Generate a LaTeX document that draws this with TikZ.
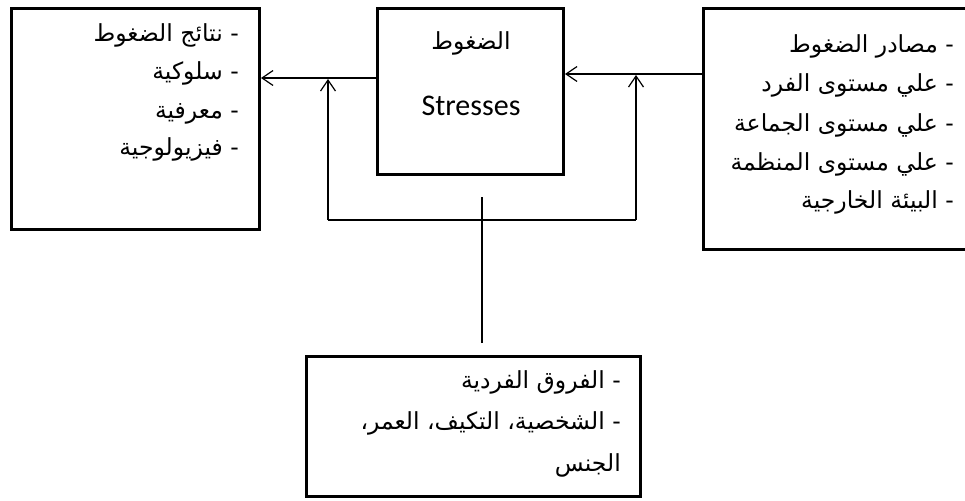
\documentclass[tikz,border=0pt]{standalone}
\usepackage{fontspec}
\usetikzlibrary{arrows.meta}
\newfontfamily\arabicfont[Script=Arabic]{DejaVu Sans}
\newfontfamily\latinfont{Carlito}
\TeXXeTstate=1
\begin{document}
\begin{tikzpicture}[x=1pt,y=-1pt,
  box/.style={draw, line width=3pt, inner sep=0pt, anchor=north west},
  conn/.style={line width=1.3pt},
  tip/.style={-{Straight Barb[length=11pt,width=15pt,line width=1.2pt]}},
  ar/.style={font=\arabicfont\fontsize{23.5}{28}\selectfont, anchor=base east, inner sep=0pt},
  lat/.style={font=\latinfont\fontsize{30}{34}\selectfont, anchor=base, inner sep=0pt}]
\useasboundingbox (0,0) rectangle (965,500);
\clip (0,0) rectangle (965,500);
\fill[white] (0,0) rectangle (965,500);
% boxes
\node[box, minimum width=248pt, minimum height=221pt] (L) at (10,7) {};
\node[box, minimum width=186pt, minimum height=166pt] (C) at (376,7) {};
\node[box, minimum width=280pt, minimum height=241pt] (R) at (702,7) {};
\node[box, minimum width=334pt, minimum height=140pt] (B) at (305,355) {};
% left box text
\node[ar] (l1) at (239,42) {\beginR - نتائج الضغوط\endR};
\node[ar] (l2) at (239,80) {\beginR - سلوكية\endR};
\node[ar] (l3) at (239,118) {\beginR - معرفية\endR};
\node[ar] (l4) at (239,155) {\beginR - فيزيولوجية\endR};
% center text
\node[ar, anchor=base] (c1) at (471,50) {\beginR الضغوط\endR};
\node[lat] (c2) at (471,115) {Stresses};
% right box text
\node[ar] (r1) at (954,53) {\beginR - مصادر الضغوط\endR};
\node[ar] (r2) at (954,92) {\beginR - علي مستوى الفرد\endR};
\node[ar] (r3) at (954,131) {\beginR - علي مستوى الجماعة\endR};
\node[ar] (r4) at (954,170) {\beginR - علي مستوى المنظمة\endR};
\node[ar] (r5) at (954,208) {\beginR - البيئة الخارجية\endR};
% bottom box text
\node[ar] (b1) at (621,388) {\beginR - الفروق الفردية\endR};
\node[ar] (b2) at (621,429) {\beginR - الشخصية، التكيف، العمر،\endR};
\node[ar] (b3) at (621,471) {\beginR الجنس\endR};
% connectors
\draw[conn, tip] (C.west |- 0,78) -- (L.east |- 0,78);
\draw[conn, tip] (R.west |- 0,74) -- (C.east |- 0,74);
\coordinate (fb1) at (328,220);
\coordinate (fb2) at (636,220);
\coordinate (t1) at (328,79);
\coordinate (t2) at (636,75);
\draw[conn] (fb1) -- (fb2);
\draw[conn, tip] (fb1) -- (t1);
\draw[conn, tip] (fb2) -- (t2);
\coordinate (v1) at (482,197);
\coordinate (v2) at (482,343);
\draw[conn] (v2) -- (v1);
\end{tikzpicture}
\end{document}
